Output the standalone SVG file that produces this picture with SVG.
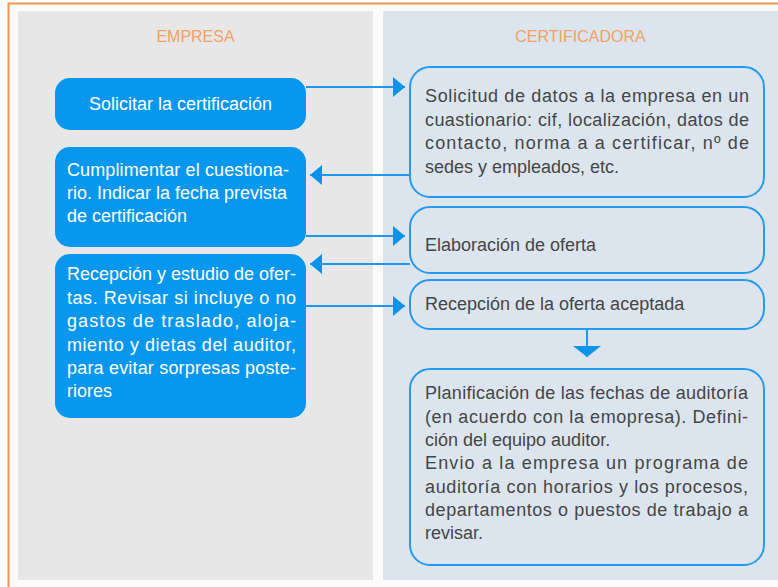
<svg xmlns="http://www.w3.org/2000/svg" width="778" height="587" viewBox="0 0 778 587">
<defs>
<style>
.frame{fill:none;stroke:#f19651;stroke-width:2}
.head{font-family:"Liberation Sans",Arial,sans-serif;font-size:16px;fill:#f2a164;text-anchor:middle}
.bbox{fill:#0897ee}
.obox{fill:#dce5ee;stroke:#2499f0;stroke-width:2}
.wt{font-family:"Liberation Sans",Arial,sans-serif;font-size:18px;fill:#ffffff}
.dt{font-family:"Liberation Sans",Arial,sans-serif;font-size:18px;fill:#454545}
.con{fill:none;stroke:#1f97ee;stroke-width:2}
</style>
<marker id="ah" viewBox="0 0 12 20" refX="12" refY="10" markerWidth="12" markerHeight="20" markerUnits="userSpaceOnUse" orient="auto">
<path d="M0,0 L12,10 L0,20 Z" fill="#0a93ea"/>
</marker>
<marker id="ahd" viewBox="0 0 11 28" refX="11" refY="14" markerWidth="11" markerHeight="28" markerUnits="userSpaceOnUse" orient="auto">
<path d="M0,0 L11,14 L0,28 Z" fill="#0a93ea"/>
</marker>
</defs>
<rect x="0" y="0" width="778" height="587" fill="#fbfbfb"/>
<rect class="frame" x="8.5" y="3.5" width="800" height="600"/>
<rect x="18" y="11" width="355" height="569" fill="#e7e7e7"/>
<rect x="383" y="11" width="400" height="569" fill="#dce5ee"/>
<text class="head" x="195.5" y="41.5">EMPRESA</text>
<text class="head" x="580.5" y="41.5">CERTIFICADORA</text>

<g id="connectors">
<path class="con" d="M306,87 L405,87" marker-end="url(#ah)"/>
<path class="con" d="M410,175 L310,175" marker-end="url(#ah)"/>
<path class="con" d="M306,236 L405,236" marker-end="url(#ah)"/>
<path class="con" d="M410,264 L310,264" marker-end="url(#ah)"/>
<path class="con" d="M306,306 L405,306" marker-end="url(#ah)"/>
<path class="con" d="M587,329 L587,357" marker-end="url(#ahd)"/>
</g>

<g id="solicitar">
<rect class="bbox" x="55" y="78" width="251" height="52" rx="15"/>
<text class="wt" x="180.5" y="110" text-anchor="middle">Solicitar la certificación</text>
</g>

<g id="solicitud-datos">
<rect class="obox" x="410" y="67" width="354" height="130" rx="20"/>
<text class="dt" x="425" y="102" textLength="324" lengthAdjust="spacing">Solicitud de datos a la empresa en un</text>
<text class="dt" x="425" y="125.5" textLength="324" lengthAdjust="spacing">cuastionario: cif, localización, datos de</text>
<text class="dt" x="425" y="149" textLength="324" lengthAdjust="spacing">contacto, norma a a certificar, nº de</text>
<text class="dt" x="425" y="172.5">sedes y empleados, etc.</text>
</g>

<g id="cumplimentar">
<rect class="bbox" x="55" y="147" width="251" height="100" rx="15"/>
<text class="wt" x="67" y="176" textLength="222" lengthAdjust="spacing">Cumplimentar el cuestiona-</text>
<text class="wt" x="67" y="199.3" textLength="220" lengthAdjust="spacing">rio. Indicar la fecha prevista</text>
<text class="wt" x="67" y="222">de certificación</text>
</g>

<g id="elaboracion">
<rect class="obox" x="410" y="207" width="354" height="66" rx="20"/>
<text class="dt" x="425" y="250.5">Elaboración de oferta</text>
</g>

<g id="recepcion-estudio">
<rect class="bbox" x="55" y="254" width="251" height="164" rx="15"/>
<text class="wt" x="67" y="280" textLength="229" lengthAdjust="spacing">Recepción y estudio de ofer-</text>
<text class="wt" x="67" y="303.5" textLength="229" lengthAdjust="spacing">tas. Revisar si incluye o no</text>
<text class="wt" x="67" y="327" textLength="229" lengthAdjust="spacing">gastos de traslado, aloja-</text>
<text class="wt" x="67" y="350.5" textLength="229" lengthAdjust="spacing">miento y dietas del auditor,</text>
<text class="wt" x="67" y="374" textLength="229" lengthAdjust="spacing">para evitar sorpresas poste-</text>
<text class="wt" x="67" y="397">riores</text>
</g>

<g id="recepcion-oferta">
<rect class="obox" x="410" y="280" width="354" height="49" rx="20"/>
<text class="dt" x="425" y="310">Recepción de la oferta aceptada</text>
</g>

<g id="planificacion">
<rect class="obox" x="410" y="369" width="354" height="196" rx="20"/>
<text class="dt" x="425" y="399.3" textLength="323" lengthAdjust="spacing">Planificación de las fechas de auditoría</text>
<text class="dt" x="425" y="422.7" textLength="323" lengthAdjust="spacing">(en acuerdo con la emopresa). Defini-</text>
<text class="dt" x="425" y="445.7">ción del equipo auditor.</text>
<text class="dt" x="425" y="469.3" textLength="323" lengthAdjust="spacing">Envio a la empresa un programa de</text>
<text class="dt" x="425" y="492.7" textLength="323" lengthAdjust="spacing">auditoría con horarios y los procesos,</text>
<text class="dt" x="425" y="516" textLength="323" lengthAdjust="spacing">departamentos o puestos de trabajo a</text>
<text class="dt" x="425" y="539.3">revisar.</text>
</g>
</svg>
